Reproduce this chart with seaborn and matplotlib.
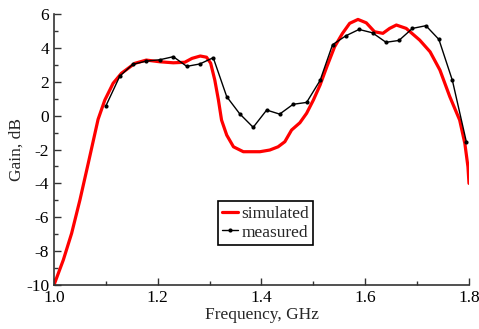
import numpy as np
import pandas as pd
import matplotlib
matplotlib.use("Agg")
import matplotlib.pyplot as plt
import seaborn as sns
from matplotlib.ticker import MultipleLocator

# simulated gain
sim_freq = [1.000, 1.018, 1.034, 1.050, 1.066, 1.085, 1.098, 1.114, 1.130, 1.156,
            1.178, 1.204, 1.230, 1.252, 1.266, 1.282, 1.294, 1.302, 1.310, 1.317,
            1.323, 1.333, 1.346, 1.365, 1.397, 1.416, 1.432, 1.445, 1.458, 1.474,
            1.487, 1.500, 1.513, 1.526, 1.541, 1.556, 1.570, 1.586, 1.602, 1.618,
            1.634, 1.647, 1.660, 1.679, 1.705, 1.725, 1.744, 1.763, 1.782, 1.792,
            1.798, 1.800]
sim_gain = [-10.0, -8.52, -6.95, -4.98, -2.82, -0.22, 0.92, 1.91, 2.5, 3.09,
            3.28, 3.18, 3.12, 3.15, 3.38, 3.52, 3.45, 3.1, 2.1, 0.92,
            -0.26, -1.15, -1.84, -2.13, -2.13, -2.03, -1.84, -1.54, -0.85, -0.42,
            0.14, 0.92, 1.81, 2.89, 4.07, 4.85, 5.45, 5.68, 5.48, 4.95,
            4.86, 5.15, 5.35, 5.15, 4.46, 3.77, 2.69, 1.12, -0.26, -1.64,
            -3.02, -4.0]

# measured gain
meas_freq = [1.100, 1.127, 1.152, 1.178, 1.204, 1.230, 1.256, 1.281, 1.307, 1.333,
             1.358, 1.384, 1.410, 1.435, 1.461, 1.487, 1.513, 1.537, 1.563, 1.588,
             1.614, 1.640, 1.665, 1.691, 1.717, 1.742, 1.768, 1.795]
meas_gain = [0.57, 2.34, 3.03, 3.22, 3.30, 3.48, 2.91, 3.05, 3.42, 1.12,
             0.11, -0.69, 0.33, 0.09, 0.67, 0.78, 2.08, 4.19, 4.72, 5.09,
             4.89, 4.33, 4.44, 5.15, 5.31, 4.50, 2.08, -1.56]

sim = pd.DataFrame({"f": sim_freq, "g": sim_gain})
meas = pd.DataFrame({"f": meas_freq, "g": meas_gain})

sns.set_style("ticks")
plt.rcParams["font.family"] = ["Liberation Serif", "DejaVu Serif"]
plt.rcParams["axes.unicode_minus"] = False
fs = 12.5

fig = plt.figure(figsize=(4.79, 3.29), dpi=100)
ax = fig.add_axes([0.1127, 0.1337, 0.8664, 0.8237])

sns.lineplot(data=sim, x="f", y="g", color="#ff0000", linewidth=2.3,
             label="simulated", ax=ax, sort=False)
sns.lineplot(data=meas, x="f", y="g", color="black", linewidth=1.0,
             marker="o", markersize=3, markeredgewidth=0,
             label="measured", ax=ax, sort=False)

ax.set_xlim(1.0, 1.8)
ax.set_ylim(-10, 6)
ax.xaxis.set_major_locator(MultipleLocator(0.2))
ax.xaxis.set_minor_locator(MultipleLocator(0.1))
ax.yaxis.set_major_locator(MultipleLocator(2))
ax.yaxis.set_minor_locator(MultipleLocator(1))
ax.tick_params(which="both", direction="in", colors="#333333", labelcolor="black",
               labelsize=fs)
ax.tick_params(which="major", length=5, width=1)
ax.tick_params(which="minor", length=3, width=1)
ax.set_xticks([1.0, 1.2, 1.4, 1.6, 1.8])
ax.set_xticklabels(["1.0", "1.2", "1.4", "1.6", "1.8"])
sns.despine(ax=ax)
for s in ["left", "bottom"]:
    ax.spines[s].set_color("#333333")
    ax.spines[s].set_linewidth(1.2)

ax.set_xlabel("Frequency, GHz", fontsize=fs, labelpad=1)
ax.set_ylabel("Gain, dB", fontsize=fs, labelpad=1)

leg = ax.legend(loc="lower left", bbox_to_anchor=(0.395, 0.148), fontsize=fs,
                frameon=True, fancybox=False, handlelength=0.9,
                handletextpad=0.2, borderpad=0.25, borderaxespad=0,
                labelspacing=0.15)
leg.get_frame().set_edgecolor("black")
leg.get_frame().set_linewidth(1.2)
leg.get_frame().set_alpha(1)

fig.savefig("out.png", dpi=100)
